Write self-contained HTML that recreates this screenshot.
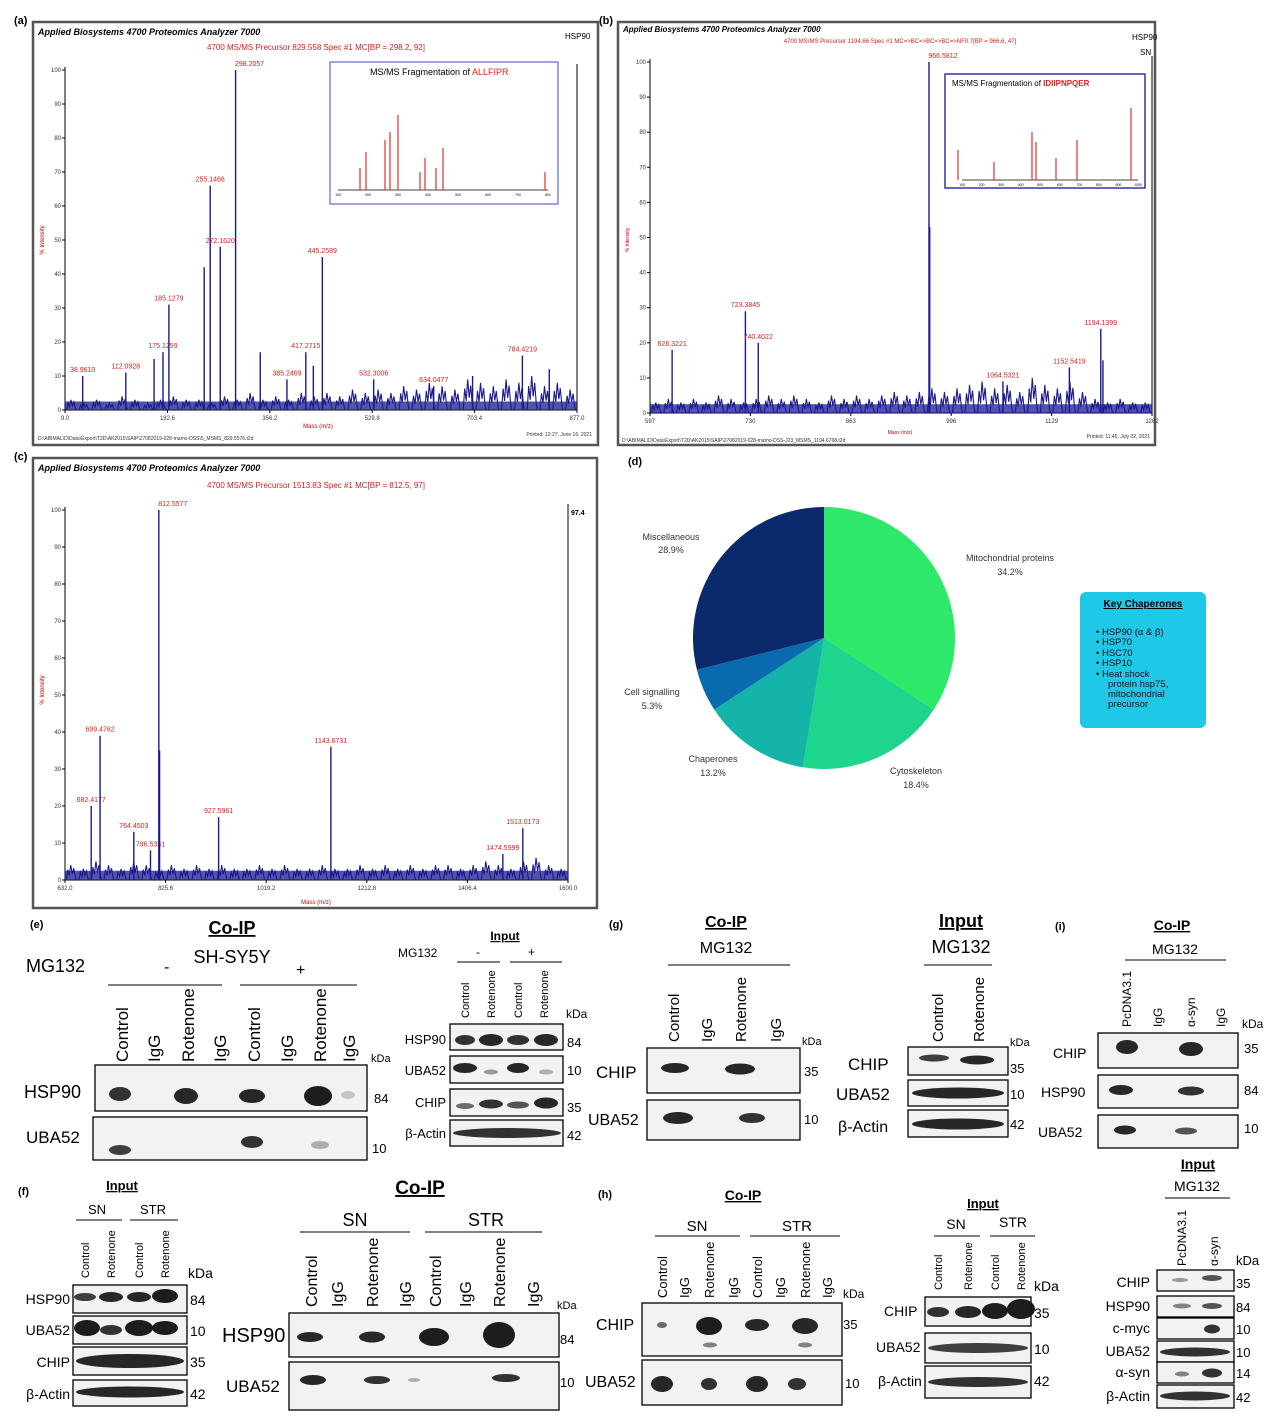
<!DOCTYPE html>
<html><head><meta charset="utf-8">
<style>
body{margin:0;background:#fff;}
svg{display:block;font-family:"Liberation Sans",Arial,sans-serif;}
.red{fill:#d42020;font-size:7px;}
.ax{font-size:6px;fill:#333;}
</style></head>
<body>
<svg id="fig" width="1274" height="1418" viewBox="0 0 1274 1418" xmlns="http://www.w3.org/2000/svg">
<g font-size="11" font-weight="bold" fill="#000">
<text x="14" y="24">(a)</text>
<text x="599" y="24">(b)</text>
<text x="14" y="460">(c)</text>
<text x="628" y="465">(d)</text>
<text x="30" y="928">(e)</text>
<text x="609" y="928">(g)</text>
<text x="1055" y="930">(i)</text>
<text x="18" y="1195">(f)</text>
<text x="598" y="1198">(h)</text>
</g>

<g>
<rect x="33" y="22" width="565" height="423" fill="#fff" stroke="#555" stroke-width="2.5"/>
<text x="38" y="35" font-size="9" font-style="italic" font-weight="bold">Applied Biosystems 4700 Proteomics Analyzer 7000</text>
<text x="565" y="39" font-size="8">HSP90</text>
<text x="316" y="50" font-size="8" fill="#d42020" text-anchor="middle">4700 MS/MS Precursor 829.558 Spec #1 MC[BP = 298.2, 92]</text>
<text x="44" y="240" font-size="6" fill="#c00" transform="rotate(-90 44 240)" text-anchor="middle">% Intensity</text>
<text x="318" y="428" font-size="6" fill="#c00" text-anchor="middle">Mass (m/z)</text>
<text x="38" y="440" font-size="5" fill="#333">D:\ABIMAL\D\Data\Export\T2D\AK2015\SAIP\27082019-028-mamo-DSS\5_MSMS_829.5576.t2d</text>
<text x="592" y="436" font-size="5" fill="#333" text-anchor="end">Printed: 12:27, June 16, 2021</text>
<g id="specA"></g>
<rect x="330" y="62" width="228" height="142" fill="#fff" stroke="#4444cc" stroke-width="1"/>
<text x="370" y="75" font-size="9">MS/MS Fragmentation of <tspan fill="#e02020">ALLFIPR</tspan></text>
<g id="insetA"></g>
</g>

<g>
<rect x="618" y="22" width="537" height="423" fill="#fff" stroke="#555" stroke-width="2.5"/>
<text x="623" y="32" font-size="8" font-style="italic" font-weight="bold">Applied Biosystems 4700 Proteomics Analyzer 7000</text>
<text x="1132" y="40" font-size="8">HSP90</text>
<text x="1140" y="55" font-size="8">SN</text>
<text x="900" y="43" font-size="6" fill="#d42020" text-anchor="middle">4700 MS/MS Precursor 1194.66 Spec #1 MC=&gt;BC=&gt;BC=&gt;BC=&gt;NF0.7[BP = 966.6, 47]</text>
<text x="629" y="240" font-size="5" fill="#c00" transform="rotate(-90 629 240)" text-anchor="middle">% Intensity</text>
<text x="900" y="434" font-size="5" fill="#c00" text-anchor="middle">Mass (m/z)</text>
<text x="622" y="442" font-size="5" fill="#333">D:\ABIMAL\D\Data\Export\T2D\AK2015\SAIP\27082019-028-mamo-DSS-J23_MSMS_1194.6768.t2d</text>
<text x="1150" y="438" font-size="5" fill="#333" text-anchor="end">Printed: 11:45, July 02, 2021</text>
<g id="specB"></g>
<rect x="945" y="74" width="200" height="114" fill="#fff" stroke="#3333aa" stroke-width="1.5"/>
<text x="952" y="86" font-size="8">MS/MS Fragmentation of <tspan fill="#e02020" font-weight="bold">IDIIPNPQER</tspan></text>
<g id="insetB"></g>
</g>

<g>
<rect x="33" y="458" width="564" height="450" fill="#fff" stroke="#555" stroke-width="2.5"/>
<text x="38" y="471" font-size="9" font-style="italic" font-weight="bold">Applied Biosystems 4700 Proteomics Analyzer 7000</text>
<text x="316" y="488" font-size="8" fill="#d42020" text-anchor="middle">4700 MS/MS Precursor 1513.83 Spec #1 MC[BP = 812.5, 97]</text>
<text x="44" y="690" font-size="6" fill="#c00" transform="rotate(-90 44 690)" text-anchor="middle">% Intensity</text>
<text x="316" y="904" font-size="6" fill="#c00" text-anchor="middle">Mass (m/z)</text>
<text x="571" y="515" font-size="7" font-weight="bold">97.4</text>
<g id="specC"></g>
</g>

<g id="pie"></g>
<g font-size="9" fill="#333" text-anchor="middle">
<text x="671" y="540">Miscellaneous</text><text x="671" y="553">28.9%</text>
<text x="1010" y="561">Mitochondrial proteins</text><text x="1010" y="575">34.2%</text>
<text x="652" y="695">Cell signalling</text><text x="652" y="709">5.3%</text>
<text x="713" y="762">Chaperones</text><text x="713" y="776">13.2%</text>
<text x="916" y="774">Cytoskeleton</text><text x="916" y="788">18.4%</text>
</g>
<g>
<rect x="1080" y="592" width="126" height="136" rx="6" fill="#1ec8e6"/>
<text x="1143" y="607" font-size="10" font-weight="bold" text-anchor="middle" text-decoration="underline">Key Chaperones</text>
<g font-size="9.5" fill="#111">
<text x="1096" y="635">•  HSP90 (α &amp; β)</text>
<text x="1096" y="645">•  HSP70</text>
<text x="1096" y="656">•  HSC70</text>
<text x="1096" y="666">•  HSP10</text>
<text x="1096" y="677">•  Heat shock</text>
<text x="1108" y="687">protein hsp75,</text>
<text x="1108" y="697">mitochondrial</text>
<text x="1108" y="707">precursor</text>
</g></g>

<g id="blots"></g>
</svg>
<script>
const peaksA_mz=[38.96,112.09,160,175.13,185.13,245,255.15,272.16,298.21,340,385.25,417.27,430,445.26,532.30,634.05,700,784.42,830];
const peaksA_int=[10,11,15,17,31,42,66,48,100,17,9,17,13,45,9,7,10,16,12];
const labelsA=["38.9610","112.0928","","175.1259","185.1279","","255.1466","272.1620","298.2057","","385.2469","417.2715","","445.2589","532.3006","634.0477","","784.4219",""];
const noiseA=[3,2,3,2,4,3,2,3,4,3,3,2,4,3,5,3,4,3,5,4,5,4,6,5,6,5,7,6,8,7,6,9,8,7,9,8,10,7,8,6];
const ticksA=[9.0,182.6,356.2,529.8,703.4,877.0];

const peaksB_mz=[626.32,723.38,740.40,966.58,967.5,1064.53,1152.54,1194.14,1197];
const peaksB_int=[18,29,20,100,53,9,13,24,15];
const labelsB=["626.3221","723.3845","740.4022","966.5812","","1064.5321","1152.5419","1194.1399",""];
const noiseB=[3,4,3,4,3,5,4,3,4,5,4,5,4,3,5,4,5,4,5,6,5,6,7,6,7,8,9,7,8,6,10,8,7,9,6,4,3,4,3,3];
const ticksB=[597,730,863,996,1129,1262];

const peaksC_mz=[682.42,699.48,764.45,796.53,812.56,814,927.60,1143.67,1474.60,1513.02];
const peaksC_int=[20,39,13,8,100,35,17,36,7,14];
const labelsC=["682.4177","699.4762","764.4503","796.5331","812.5577","","927.5961","1143.6731","1474.5999","1513.0173"];
const noiseC=[4,3,5,4,3,5,4,3,4,3,4,3,4,3,3,4,3,4,3,3,4,3,3,4,3,4,3,4,3,4,4,3,4,5,4,3,5,6,4,3];
const ticksC=[632.0,825.6,1019.2,1212.8,1406.4,1600.0];
const yticks=[0,10,20,30,40,50,60,70,80,90,100];

const NS="http://www.w3.org/2000/svg";
function mk(tag,attrs,parent){const e=document.createElementNS(NS,tag);for(const k in attrs)e.setAttribute(k,attrs[k]);if(parent)parent.appendChild(e);return e;}

function spectrum(gid,cfg){
  const g=document.getElementById(gid);
  const xs=m=>cfg.x0+(m-cfg.m0)/(cfg.m1-cfg.m0)*(cfg.x1-cfg.x0);
  const ys=v=>cfg.y0-v/100*(cfg.y0-cfg.y100);
  mk('line',{x1:cfg.x0,y1:cfg.y100-3,x2:cfg.x0,y2:cfg.y0,stroke:'#000','stroke-width':1},g);
  mk('line',{x1:cfg.x0,y1:cfg.y0,x2:cfg.x1,y2:cfg.y0,stroke:'#000','stroke-width':1},g);
  mk('line',{x1:cfg.x1,y1:cfg.y100-6,x2:cfg.x1,y2:cfg.y0,stroke:'#000','stroke-width':1},g);
  yticks.forEach(v=>{mk('line',{x1:cfg.x0-3,y1:ys(v),x2:cfg.x0,y2:ys(v),stroke:'#000'},g);
    const t=mk('text',{x:cfg.x0-4,y:ys(v)+2,'text-anchor':'end','class':'ax'},g);t.textContent=v;});
  cfg.ticks.forEach(v=>{mk('line',{x1:xs(v),y1:cfg.y0,x2:xs(v),y2:cfg.y0+3,stroke:'#000'},g);
    const t=mk('text',{x:xs(v),y:cfg.y0+10,'text-anchor':'middle','class':'ax'},g);t.textContent=cfg.dec?v.toFixed(1):v;});
  let d='';const n=cfg.noise.length;
  for(let i=0;i<n;i++){const m=cfg.m0+(i+0.5)/n*(cfg.m1-cfg.m0);const x=xs(m);
    d+=`M${x-5},${cfg.y0}L${x-3.5},${ys(cfg.noise[i]*0.7)}L${x-2},${ys(cfg.noise[i]*0.3)}L${x-0.5},${ys(cfg.noise[i])}L${x+1},${ys(cfg.noise[i]*0.4)}L${x+2.5},${ys(cfg.noise[i]*0.8)}L${x+4},${ys(cfg.noise[i]*0.2)}L${x+5},${cfg.y0}`;}
  const nz=mk('path',{d:d,stroke:'#1a1a8c','stroke-width':1.1,fill:'none'},g);
  
  
  mk('rect',{x:cfg.x0,y:ys(2.5),width:cfg.x1-cfg.x0,height:cfg.y0-ys(2.5),fill:'#1a1a8c',opacity:0.75},g);
  cfg.mz.forEach((m,i)=>{
    const p=mk('line',{x1:xs(m),y1:cfg.y0,x2:xs(m),y2:ys(cfg.int[i]),stroke:'#1a1a8c','stroke-width':1.4},g);
    
    
    if(cfg.labels[i]){const t=mk('text',{x:xs(m)+(cfg.int[i]>=90?14:0),y:ys(cfg.int[i])-4,'text-anchor':'middle','class':'red','font-size':cfg.fs},g);t.textContent=cfg.labels[i];}
  });
}
spectrum('specA',{x0:65,x1:577,y0:410,y100:70,m0:9,m1:877,ticks:ticksA,dec:true,mz:peaksA_mz,int:peaksA_int,labels:labelsA,noise:noiseA,fs:7});
spectrum('specB',{x0:650,x1:1152,y0:413,y100:62,m0:597,m1:1262,ticks:ticksB,dec:false,mz:peaksB_mz,int:peaksB_int,labels:labelsB,noise:noiseB,fs:5.5});
spectrum('specC',{x0:65,x1:568,y0:880,y100:510,m0:632,m1:1600,ticks:ticksC,dec:true,mz:peaksC_mz,int:peaksC_int,labels:labelsC,noise:noiseC,fs:7});

const insetA_x=[360,366,385,390,398,420,425,436,443,545];
const insetA_h=[22,38,50,58,75,18,32,22,42,18];
const insetB_x=[958,994,1032,1036,1056,1077,1131];
const insetB_h=[30,18,48,38,22,40,72];
function inset(gid,xsArr,hs,base,tickStart,tickEnd,n){
  const g=document.getElementById(gid);
  mk('line',{x1:tickStart,y1:base,x2:tickEnd,y2:base,stroke:'#000','stroke-width':0.8},g);
  for(let i=0;i<n;i++){const x=tickStart+i*(tickEnd-tickStart)/(n-1);
    const t=mk('text',{x:x,y:base+6,'font-size':3.5,'text-anchor':'middle'},g);t.textContent=(i+1)*100;}
  xsArr.forEach((x,i)=>{const l=mk('line',{x1:x,y1:base,x2:x,y2:base-hs[i],stroke:'#e03030','stroke-width':1.2},g);
    
    });
}
inset('insetA',insetA_x,insetA_h,190,338,548,8);
inset('insetB',insetB_x,insetB_h,180,962,1138,10);

const pieLabels=["Mitochondrial proteins","Cytoskeleton","Chaperones","Cell signalling","Miscellaneous"];
const pieValues=[34.2,18.4,13.2,5.3,28.9];
const pieColors=["#2ee86a","#1dd58c","#14b5a8","#0a6aae","#0b2a6b"];
(function(){const g=document.getElementById('pie');const cx=824,cy=638,r=131;
  const tot=pieValues.reduce((a,b)=>a+b,0);let a=-Math.PI/2;
  pieValues.forEach((v,i)=>{const b=a+v/tot*2*Math.PI;
    const x1=cx+r*Math.cos(a),y1=cy+r*Math.sin(a),x2=cx+r*Math.cos(b),y2=cy+r*Math.sin(b);
    const p=mk('path',{d:`M${cx},${cy}L${x1},${y1}A${r},${r} 0 ${b-a>Math.PI?1:0} 1 ${x2},${y2}Z`,fill:pieColors[i]},g);
    
    
    a=b;});})();

const B=document.getElementById('blots');
function txt(x,y,s,size,opt){const t=mk('text',Object.assign({x:x,y:y,'font-size':size},opt||{}),B);t.textContent=s;return t;}
function box(x,y,w,h){mk('rect',{x:x,y:y,width:w,height:h,fill:'#f2f2f2',stroke:'#000','stroke-width':1.3},B);}
function band(x,y,w,h,op){mk('ellipse',{cx:x,cy:y,rx:w/2,ry:h/2,fill:'#111',opacity:op},B);}
function lanes(xs,y,names,size){names.forEach((s,i)=>txt(xs[i],y,s,size,{transform:`rotate(-90 ${xs[i]} ${y})`}));}

txt(232,934,'Co-IP',18,{'font-weight':'bold','text-anchor':'middle','text-decoration':'underline'});
txt(232,963,'SH-SY5Y',18,{'text-anchor':'middle'});
txt(26,972,'MG132',18);txt(164,972,'-',16);txt(296,975,'+',16);
mk('line',{x1:108,y1:985,x2:222,y2:985,stroke:'#000'},B);mk('line',{x1:240,y1:985,x2:357,y2:985,stroke:'#000'},B);
const eL=[128,160,194,226,260,293,326,355];
lanes(eL,1062,['Control','IgG','Rotenone','IgG','Control','IgG','Rotenone','IgG'],17);
box(95,1065,272,46);box(93,1117,274,43);
txt(24,1098,'HSP90',18);txt(26,1143,'UBA52',17);txt(371,1062,'kDa',11);txt(374,1103,'84',13);txt(372,1153,'10',13);
band(120,1094,22,14,.85);band(186,1096,24,16,.9);band(252,1096,26,14,.9);band(318,1096,28,20,.95);band(348,1095,14,8,.2);
band(120,1150,22,10,.8);band(252,1142,22,12,.85);band(320,1145,18,8,.3);
txt(505,940,'Input',12,{'font-weight':'bold','text-anchor':'middle','text-decoration':'underline'});
txt(398,957,'MG132',12);txt(476,956,'-',12);txt(528,956,'+',12);
mk('line',{x1:457,y1:962,x2:500,y2:962,stroke:'#000'},B);mk('line',{x1:510,y1:962,x2:562,y2:962,stroke:'#000'},B);
const eiL=[469,495,522,548];lanes(eiL,1018,['Control','Rotenone','Control','Rotenone'],11);
[[1024,26],[1056,27],[1089,27],[1120,26]].forEach(r=>box(450,r[0],113,r[1]));
['HSP90','UBA52','CHIP','β-Actin'].forEach((s,i)=>txt(446,[1044,1075,1107,1138][i],s,13,{'text-anchor':'end'}));
txt(566,1018,'kDa',12);['84','10','35','42'].forEach((s,i)=>txt(567,[1047,1075,1112,1140][i],s,13));
band(465,1040,20,10,.85);band(491,1040,24,12,.9);band(518,1040,22,10,.85);band(546,1040,24,12,.9);
band(465,1068,24,10,.9);band(491,1072,14,5,.4);band(518,1068,22,10,.9);band(546,1072,14,5,.3);
band(465,1106,18,6,.6);band(491,1104,24,9,.85);band(518,1105,22,7,.7);band(546,1103,24,11,.9);
band(507,1133,108,10,.85);
txt(726,927,'Co-IP',16,{'font-weight':'bold','text-anchor':'middle','text-decoration':'underline'});
txt(726,953,'MG132',16,{'text-anchor':'middle'});mk('line',{x1:668,y1:965,x2:790,y2:965,stroke:'#000'},B);
lanes([679,712,746,781],1042,['Control','IgG','Rotenone','IgG'],15);
box(647,1048,153,45);box(647,1100,153,40);
txt(596,1078,'CHIP',17);txt(588,1125,'UBA52',16);txt(802,1045,'kDa',11);txt(804,1076,'35',13);txt(804,1124,'10',13);
band(675,1068,28,10,.9);band(740,1069,30,11,.9);band(678,1118,30,12,.9);band(752,1118,26,10,.85);
txt(961,927,'Input',18,{'font-weight':'bold','text-anchor':'middle','text-decoration':'underline'});
txt(961,953,'MG132',18,{'text-anchor':'middle'});mk('line',{x1:924,y1:965,x2:992,y2:965,stroke:'#000'},B);
lanes([943,984],1042,['Control','Rotenone'],15);
box(908,1047,100,28);box(908,1080,100,26);box(908,1110,100,27);
txt(848,1070,'CHIP',17);txt(836,1100,'UBA52',17);txt(838,1132,'β-Actin',16);txt(1010,1046,'kDa',11);
txt(1010,1073,'35',13);txt(1010,1099,'10',13);txt(1010,1129,'42',13);
band(934,1058,30,7,.8);band(977,1060,34,9,.9);band(958,1093,92,11,.9);band(958,1124,92,11,.9);
txt(1172,930,'Co-IP',14,{'font-weight':'bold','text-anchor':'middle','text-decoration':'underline'});
txt(1175,954,'MG132',14,{'text-anchor':'middle'});mk('line',{x1:1125,y1:960,x2:1226,y2:960,stroke:'#000'},B);
lanes([1131,1162,1195,1225],1027,['PcDNA3.1','IgG','α-syn','IgG'],12);
box(1098,1033,140,35);box(1098,1075,140,33);box(1098,1115,140,33);
txt(1053,1058,'CHIP',14);txt(1041,1097,'HSP90',14);txt(1038,1137,'UBA52',14);
txt(1242,1028,'kDa',12);txt(1244,1053,'35',13);txt(1244,1095,'84',13);txt(1244,1133,'10',13);
band(1127,1047,22,14,.9);band(1191,1049,24,14,.9);band(1121,1090,24,10,.9);band(1191,1091,26,9,.85);
band(1125,1130,22,9,.9);band(1186,1131,22,7,.7);
txt(122,1190,'Input',13,{'font-weight':'bold','text-anchor':'middle','text-decoration':'underline'});
txt(97,1214,'SN',13,{'text-anchor':'middle'});txt(153,1214,'STR',13,{'text-anchor':'middle'});
mk('line',{x1:76,y1:1220,x2:122,y2:1220,stroke:'#000'},B);mk('line',{x1:130,y1:1220,x2:178,y2:1220,stroke:'#000'},B);
lanes([89,115,143,169],1278,['Control','Rotenone','Control','Rotenone'],11);
[[1285,28],[1316,28],[1347,28],[1380,26]].forEach(r=>box(73,r[0],114,r[1]));
['HSP90','UBA52','CHIP','β-Actin'].forEach((s,i)=>txt(70,[1304,1335,1367,1399][i],s,14,{'text-anchor':'end'}));
txt(188,1278,'kDa',14);['84','10','35','42'].forEach((s,i)=>txt(190,[1305,1336,1367,1399][i],s,14));
band(85,1297,22,8,.8);band(111,1297,24,10,.9);band(139,1297,24,10,.9);band(165,1296,26,14,.95);
band(87,1328,26,16,.95);band(111,1330,22,10,.85);band(139,1328,28,16,.95);band(165,1328,26,14,.95);
band(130,1361,108,14,.9);band(130,1392,108,11,.9);
txt(420,1194,'Co-IP',19,{'font-weight':'bold','text-anchor':'middle','text-decoration':'underline'});
txt(355,1226,'SN',18,{'text-anchor':'middle'});txt(486,1226,'STR',18,{'text-anchor':'middle'});
mk('line',{x1:300,y1:1232,x2:410,y2:1232,stroke:'#000'},B);mk('line',{x1:425,y1:1232,x2:542,y2:1232,stroke:'#000'},B);
lanes([317,343,378,411,441,471,505,539],1307,['Control','IgG','Rotenone','IgG','Control','IgG','Rotenone','IgG'],16);
box(289,1313,270,44);box(289,1362,270,48);
txt(222,1342,'HSP90',20);txt(226,1392,'UBA52',17);txt(557,1309,'kDa',11);txt(560,1344,'84',13);txt(560,1387,'10',13);
band(310,1337,26,10,.9);band(372,1337,26,11,.9);band(434,1337,30,18,.95);band(499,1335,32,26,.95);
band(313,1380,26,10,.9);band(377,1380,26,8,.85);band(414,1380,12,4,.3);band(506,1378,28,8,.85);
txt(743,1200,'Co-IP',14,{'font-weight':'bold','text-anchor':'middle','text-decoration':'underline'});
txt(697,1231,'SN',15,{'text-anchor':'middle'});txt(797,1231,'STR',15,{'text-anchor':'middle'});
mk('line',{x1:655,y1:1236,x2:740,y2:1236,stroke:'#000'},B);mk('line',{x1:750,y1:1236,x2:840,y2:1236,stroke:'#000'},B);
lanes([667,689,714,738,762,785,810,832],1298,['Control','IgG','Rotenone','IgG','Control','IgG','Rotenone','IgG'],13);
box(642,1303,200,53);box(642,1360,200,45);
txt(596,1330,'CHIP',16);txt(585,1387,'UBA52',16);txt(843,1298,'kDa',12);txt(843,1329,'35',13);txt(845,1388,'10',13);
band(662,1325,10,6,.6);band(709,1326,26,18,.95);band(757,1325,24,12,.9);band(805,1326,26,16,.9);band(710,1345,14,5,.5);band(805,1345,14,5,.5);
band(662,1384,22,16,.9);band(709,1384,16,12,.85);band(757,1384,22,16,.9);band(797,1384,18,12,.85);
txt(983,1208,'Input',13,{'font-weight':'bold','text-anchor':'middle','text-decoration':'underline'});
txt(956,1229,'SN',14,{'text-anchor':'middle'});txt(1013,1227,'STR',14,{'text-anchor':'middle'});
mk('line',{x1:934,y1:1236,x2:980,y2:1236,stroke:'#000'},B);mk('line',{x1:990,y1:1236,x2:1035,y2:1236,stroke:'#000'},B);
lanes([942,972,999,1025],1290,['Control','Rotenone','Control','Rotenone'],11);
box(925,1297,106,29);box(925,1333,106,30);box(925,1366,106,32);
txt(884,1316,'CHIP',14);txt(876,1352,'UBA52',14);txt(878,1386,'β-Actin',14);txt(1034,1291,'kDa',14);
txt(1034,1318,'35',14);txt(1034,1354,'10',14);txt(1034,1386,'42',14);
band(938,1312,22,10,.85);band(968,1312,26,12,.9);band(995,1311,26,16,.95);band(1021,1309,28,20,.95);
band(978,1348,100,10,.8);band(978,1382,100,10,.85);
txt(1198,1169,'Input',14,{'font-weight':'bold','text-anchor':'middle','text-decoration':'underline'});
txt(1197,1191,'MG132',14,{'text-anchor':'middle'});mk('line',{x1:1165,y1:1198,x2:1230,y2:1198,stroke:'#000'},B);
lanes([1186,1218],1266,['PcDNA3.1','α-syn'],12);
[1270,1296,1318,1341,1362,1385].forEach(y=>box(1157,y,77,y==1385?23:21));
['CHIP','HSP90','c-myc','UBA52','α-syn','β-Actin'].forEach((s,i)=>txt(1150,[1287,1311,1333,1356,1377,1401][i],s,14,{'text-anchor':'end'}));
txt(1236,1265,'kDa',13);['35','84','10','10','14','42'].forEach((s,i)=>txt(1236,[1288,1312,1334,1357,1378,1402][i],s,13));
band(1180,1280,16,4,.4);band(1212,1278,20,6,.7);band(1182,1306,18,5,.5);band(1212,1306,20,6,.7);
band(1212,1329,16,9,.85);band(1195,1352,70,9,.85);band(1182,1374,14,5,.5);band(1212,1373,20,9,.85);band(1195,1396,70,9,.85);
</script>
</body></html>
